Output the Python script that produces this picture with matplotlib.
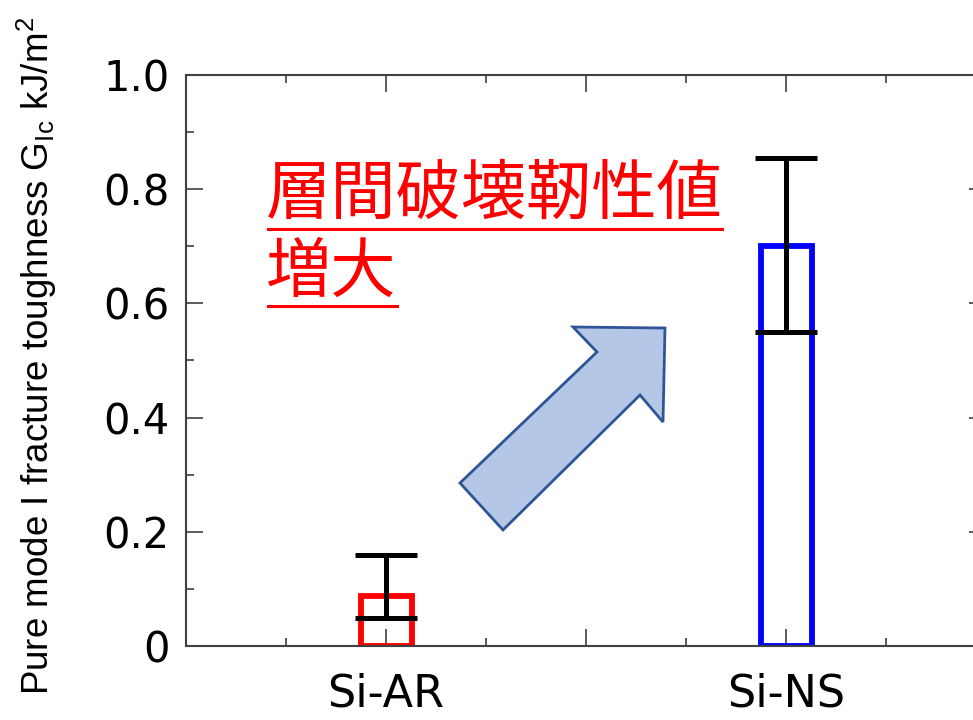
import matplotlib
matplotlib.use("Agg")
import matplotlib.pyplot as plt
from matplotlib.patches import Polygon
from matplotlib.lines import Line2D
from matplotlib.ticker import MultipleLocator

plt.rcParams["mathtext.fontset"] = "custom"
plt.rcParams["mathtext.rm"] = "Liberation Sans"
plt.rcParams["mathtext.it"] = "Liberation Sans"

# Data
categories = ["Si-AR", "Si-NS"]
x_pos = [1, 3]
values = [0.088, 0.70]
err_low = [0.039, 0.150]
err_high = [0.071, 0.155]
edge_colors = ["#ff0000", "#0000ff"]
y_ticks = [0, 0.2, 0.4, 0.6, 0.8, 1.0]
y_tick_labels = ["0", "0.2", "0.4", "0.6", "0.8", "1.0"]

W, H = 973, 720
fig = plt.figure(figsize=(W / 100, H / 100), dpi=100)

def fx(px):
    return px / W

def fy(py):
    return 1 - py / H

ax = fig.add_axes([fx(186), fy(646), 800 / W, 571 / H])
ax.set_xlim(0, 4)
ax.set_ylim(0, 1.0)

ax.bar(x_pos, values, width=0.255, fill=False, edgecolor=edge_colors,
       linewidth=4.2, zorder=2)
ax.errorbar(x_pos, values, yerr=[err_low, err_high], fmt="none",
            ecolor="black", elinewidth=3.6, capsize=22, capthick=3.6,
            zorder=3)

spine_col = "#404040"
for s in ax.spines.values():
    s.set_color(spine_col)
    s.set_linewidth(1.5)

ax.set_yticks(y_ticks, labels=y_tick_labels)
ax.yaxis.set_minor_locator(MultipleLocator(0.1))
ax.set_xticks([1, 2, 3], labels=[categories[0], "", categories[1]])
ax.xaxis.set_minor_locator(MultipleLocator(0.5))
ax.tick_params(which="both", direction="in", top=True, right=True,
               color=spine_col, width=1.2)
ax.tick_params(which="major", length=12)
ax.tick_params(which="minor", length=6)
ax.tick_params(axis="y", which="major", labelsize=30, pad=12)
ax.tick_params(axis="x", which="major", labelsize=32, pad=19)
for lab in ax.get_xticklabels() + ax.get_yticklabels():
    lab.set_fontfamily("DejaVu Sans")

fig.text(fx(37), fy(356),
         r"Pure mode I fracture toughness G$_{\mathrm{Ic}}$ kJ/m$^2$",
         rotation=90, ha="center", va="center", fontsize=26.5,
         family="Liberation Sans")

# Annotation: block arrow pointing up-right
arrow_px = [(460, 483), (597, 352), (573, 327), (665, 328),
            (663, 422), (640, 395), (503, 530)]
arrow = Polygon([(fx(x), fy(y)) for x, y in arrow_px], closed=True,
                transform=fig.transFigure, facecolor="#b4c7e7",
                edgecolor="#2f5597", linewidth=2, zorder=4)
fig.patches.append(arrow)

# Annotation text with underlines
jp_font = ["Noto Sans CJK JP", "DejaVu Sans"]
fig.text(fx(266), fy(196), "層間破壊靭性値", color="#ff0000", fontsize=47,
         family=jp_font, ha="left", va="center")
fig.text(fx(266), fy(274), "増大", color="#ff0000", fontsize=47,
         family=jp_font, ha="left", va="center")
for x0, x1, y in [(268, 722, 229), (268, 397, 306)]:
    fig.lines.append(Line2D([fx(x0), fx(x1)], [fy(y), fy(y)],
                            transform=fig.transFigure, color="#ff0000",
                            linewidth=2.2))

fig.savefig("out.png", dpi=100)
